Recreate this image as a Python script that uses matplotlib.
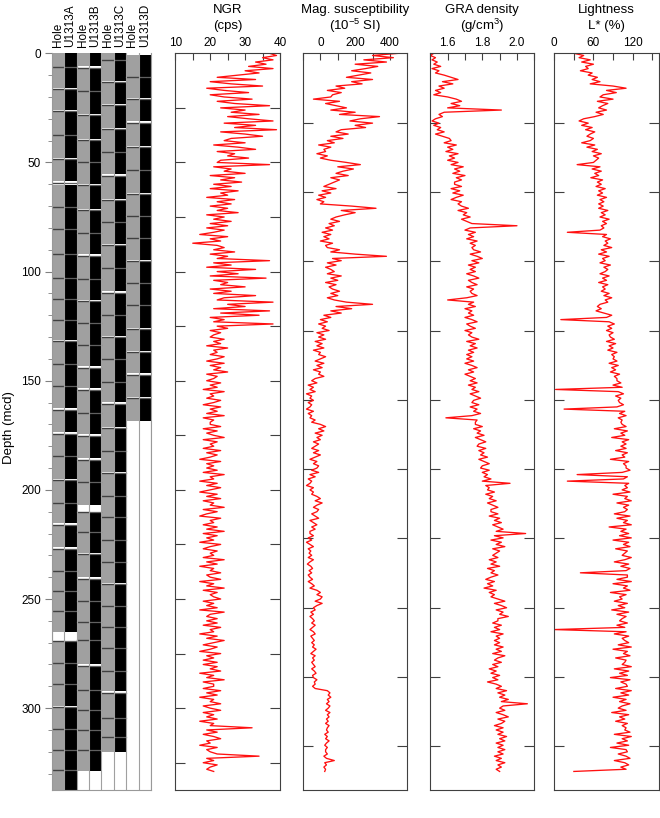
import numpy as np
import matplotlib
matplotlib.use("Agg")
import matplotlib.pyplot as plt
from matplotlib.patches import Rectangle

plt.rcParams['font.family'] = ['Liberation Sans', 'DejaVu Sans']
plt.rcParams['mathtext.fontset'] = 'custom'
plt.rcParams['mathtext.rm'] = 'Liberation Sans'

# sample depths (mcd), every 1 m
depth = np.arange(0, 330, 1)

ngr = [37, 39, 35, 38, 33, 36, 31, 38, 30, 34,
       28, 22, 33, 20, 26, 35, 19, 24, 31, 20,
       24, 32, 22, 27, 37, 23, 30, 26, 34, 25,
       31, 38, 24, 33, 27, 39, 23, 30, 35, 26,
       24, 30, 21, 28, 33, 22, 27, 25, 31, 23,
       22, 37, 21, 26, 24, 30, 20, 27, 23, 29,
       21, 26, 20, 28, 23, 25, 19, 27, 22, 26,
       20, 25, 22, 28, 19, 24, 21, 26, 20, 25,
       19, 24, 21, 17, 25, 20, 23, 15, 22, 24,
       21, 27, 20, 25, 22, 37, 21, 26, 19, 33,
       22, 28, 20, 36, 21, 25, 23, 30, 20, 26,
       21, 33, 24, 22, 38, 25, 30, 21, 37, 23,
       34, 20, 24, 21, 38, 22, 25, 20, 23, 21,
       20, 24, 21, 23, 19, 25, 21, 22, 20, 24,
       22, 19, 24, 20, 23, 21, 25, 19, 22, 21,
       19, 23, 20, 22, 18, 24, 20, 21, 19, 23,
       21, 18, 23, 20, 22, 19, 24, 18, 21, 20,
       20, 23, 18, 22, 19, 21, 24, 18, 22, 20,
       21, 18, 23, 19, 22, 20, 17, 23, 19, 21,
       19, 22, 18, 24, 20, 21, 17, 22, 19, 23,
       20, 17, 22, 19, 23, 18, 21, 20, 24, 18,
       22, 19, 17, 23, 20, 21, 18, 22, 19, 24,
       18, 22, 19, 21, 17, 23, 20, 18, 22, 20,
       21, 18, 24, 19, 22, 17, 21, 20, 23, 19,
       20, 23, 17, 21, 19, 24, 18, 22, 20, 21,
       23, 18, 21, 19, 22, 17, 24, 20, 19, 22,
       19, 22, 18, 23, 20, 21, 17, 22, 19, 24,
       21, 18, 22, 20, 17, 23, 19, 21, 18, 22,
       18, 22, 20, 23, 17, 21, 19, 24, 18, 21,
       21, 18, 23, 19, 22, 17, 21, 20, 23, 18,
       20, 23, 18, 21, 19, 22, 17, 21, 20, 32,
       19, 22, 18, 21, 23, 19, 20, 17, 22, 19,
       20, 22, 34, 19, 21, 18, 22, 20, 19, 21]

magsus = [450, 300, 420, 250, 380, 200, 330, 260, 180, 290,
          220, 150, 300, 180, 240, 90, 140, 40, 120, 70,
          60, -40, 110, 30, 90, 150, 60, 200, 110, 340,
          230, 170, 300, 200, 260, 120, 90, 160, 60, 130,
          40, 80, -10, 60, 20, 30, -20, 40, 0, 60,
          150, 230, 100, 190, 130, 90, 160, 60, 110, 80,
          50, 20, 90, 10, 60, -10, 30, -20, 20, 0,
          180, 320, 120, 200, 140, 90, 60, 110, 50, 80,
          30, 70, 10, 60, 20, 50, 0, 70, 30, 40,
          110, 60, 200, 380, 70, 120, 40, 90, 30, 60,
          80, 40, 120, 60, 100, 30, 90, 50, 70, 110,
          60, 100, 40, 80, 150, 300, 90, 180, 60, 120,
          20, 60, 0, 40, -10, 30, 10, 50, -20, 20,
          -10, 30, -30, 10, -20, 20, -40, 0, -10, 30,
          0, -30, 20, -20, 10, -40, 0, -10, 20, -30,
          -50, -20, -70, -40, -60, -30, -80, -50, -60, -40,
          -70, -50, -60, -80, -40, -70, -50, -60, -30, -50,
          0, 30, -10, 20, -30, 10, -20, 0, -40, -10,
          -30, -50, -10, -40, 0, -30, -60, -20, -40, -10,
          -20, -50, -10, -60, -30, -70, -50, -60, -80, -40,
          -60, -40, -50, -20, 0, -30, 10, -20, -40, -10,
          -20, -50, -30, -10, -60, -40, -20, -50, -30, -60,
          -60, -40, -70, -50, -80, -60, -40, -70, -55, -65,
          -50, -70, -40, -60, -75, -55, -45, -65, -50, -70,
          -60, -45, -70, -50, -35, -60, -20, 0, -20, 10,
          0, -30, 10, -20, -40, -30, -55, -40, -60, -45,
          -35, -50, -30, -45, -60, -40, -30, -55, -45, -35,
          -50, -35, -45, -25, -40, -55, -30, -45, -35, -50,
          -40, -30, -50, -35, -25, -45, -40, -20, -35, -30,
          -45, -30, 40, 55, 45, 60, 40, 50, 35, 55,
          45, 30, 55, 40, 50, 35, 45, 30, 50, 40,
          35, 45, 25, 40, 30, 50, 35, 25, 40, 30,
          30, 40, 20, 35, 80, 25, 35, 20, 30, 25]

gra = [1.52, 1.50, 1.53, 1.51, 1.54, 1.52, 1.56, 1.51, 1.55, 1.53,
       1.58, 1.62, 1.66, 1.57, 1.63, 1.55, 1.58, 1.53, 1.56, 1.52,
       1.60, 1.65, 1.68, 1.62, 1.67, 1.60, 1.91, 1.58, 1.55, 1.57,
       1.53, 1.51, 1.55, 1.52, 1.56, 1.54, 1.58, 1.53, 1.57, 1.61,
       1.62, 1.58, 1.65, 1.60, 1.63, 1.59, 1.66, 1.61, 1.64, 1.60,
       1.66, 1.62, 1.69, 1.64, 1.67, 1.63, 1.70, 1.65, 1.68, 1.64,
       1.64, 1.68, 1.62, 1.67, 1.63, 1.69, 1.65, 1.62, 1.68, 1.66,
       1.68, 1.72, 1.66, 1.71, 1.69, 1.73, 1.68, 1.71, 1.74, 2.00,
       1.73, 1.70, 1.76, 1.72, 1.75, 1.71, 1.77, 1.73, 1.76, 1.74,
       1.75, 1.79, 1.73, 1.77, 1.80, 1.74, 1.78, 1.72, 1.76, 1.73,
       1.76, 1.71, 1.75, 1.78, 1.72, 1.74, 1.77, 1.71, 1.75, 1.73,
       1.74, 1.77, 1.71, 1.60, 1.75, 1.72, 1.76, 1.70, 1.74, 1.72,
       1.75, 1.70, 1.74, 1.77, 1.71, 1.73, 1.76, 1.70, 1.74, 1.72,
       1.74, 1.78, 1.71, 1.76, 1.73, 1.77, 1.72, 1.75, 1.71, 1.74,
       1.71, 1.75, 1.70, 1.74, 1.77, 1.72, 1.75, 1.70, 1.73, 1.76,
       1.73, 1.77, 1.72, 1.76, 1.74, 1.78, 1.73, 1.76, 1.79, 1.75,
       1.74, 1.78, 1.73, 1.77, 1.75, 1.79, 1.74, 1.59, 1.77, 1.76,
       1.76, 1.80, 1.75, 1.79, 1.77, 1.81, 1.76, 1.79, 1.82, 1.78,
       1.77, 1.82, 1.78, 1.81, 1.79, 1.83, 1.78, 1.81, 1.84, 1.80,
       1.79, 1.84, 1.80, 1.83, 1.81, 1.85, 1.80, 1.96, 1.82, 1.84,
       1.83, 1.87, 1.82, 1.86, 1.84, 1.88, 1.83, 1.86, 1.89, 1.85,
       1.85, 1.89, 1.84, 1.90, 1.87, 1.91, 1.86, 1.89, 1.92, 1.88,
       2.05, 1.87, 1.92, 1.85, 1.91, 1.88, 1.93, 1.86, 1.90, 1.88,
       1.86, 1.89, 1.84, 1.88, 1.85, 1.90, 1.83, 1.87, 1.85, 1.89,
       1.85, 1.82, 1.87, 1.83, 1.86, 1.81, 1.88, 1.84, 1.87, 1.85,
       1.89, 1.93, 1.87, 1.91, 1.94, 1.88, 1.92, 1.90, 1.95, 1.89,
       1.89, 1.86, 1.91, 1.87, 1.90, 1.85, 1.92, 1.88, 1.90, 1.87,
       1.90, 1.87, 1.92, 1.88, 1.91, 1.86, 1.93, 1.89, 1.87, 1.91,
       1.86, 1.89, 1.84, 1.88, 1.85, 1.90, 1.86, 1.89, 1.83, 1.88,
       1.91, 1.88, 1.94, 1.89, 1.93, 1.90, 1.95, 1.91, 2.06, 1.92,
       1.90, 1.93, 1.88, 1.92, 1.95, 1.89, 1.93, 1.91, 1.87, 1.92,
       1.88, 1.92, 1.89, 1.94, 1.90, 1.93, 1.88, 1.92, 1.89, 1.93,
       1.89, 1.92, 1.87, 1.91, 1.88, 1.93, 1.89, 1.91, 1.88, 1.90]

lightness = [30, 45, 38, 55, 42, 60, 48, 52, 40, 58,
             52, 66, 58, 70, 55, 90, 110, 80, 95, 75,
             70, 90, 66, 82, 74, 68, 80, 64, 75, 62,
             45, 38, 52, 42, 58, 48, 62, 55, 50, 60,
             55, 42, 62, 50, 66, 58, 72, 60, 68, 64,
             60, 35, 70, 58, 72, 62, 68, 56, 74, 66,
             72, 64, 78, 68, 74, 66, 80, 70, 76, 68,
             75, 68, 82, 72, 78, 70, 84, 74, 80, 72,
             76, 70, 20, 80, 74, 86, 78, 82, 76, 88,
             72, 80, 68, 84, 74, 78, 70, 86, 76, 82,
             78, 70, 84, 74, 80, 68, 82, 74, 78, 72,
             84, 76, 88, 78, 82, 70, 66, 72, 64, 76,
             88, 80, 10, 84, 92, 82, 88, 80, 90, 84,
             86, 92, 80, 94, 84, 90, 82, 96, 88, 92,
             90, 96, 84, 98, 88, 94, 86, 100, 92, 96,
             96, 102, 90, 104, 2, 98, 106, 94, 102, 98,
             100, 106, 96, 15, 108, 100, 110, 98, 104, 102,
             104, 110, 92, 112, 102, 108, 88, 114, 104, 110,
             102, 110, 94, 112, 104, 108, 86, 114, 106, 110,
             110, 116, 104, 35, 112, 106, 20, 114, 108, 112,
             104, 116, 90, 112, 108, 118, 96, 114, 106, 112,
             108, 92, 116, 96, 112, 106, 118, 84, 110, 102,
             114, 100, 118, 90, 114, 106, 116, 94, 112, 108,
             104, 118, 108, 92, 114, 102, 116, 110, 40, 112,
             112, 96, 118, 90, 112, 106, 116, 86, 110, 100,
             104, 92, 112, 98, 108, 88, 114, 96, 110, 104,
             100, 112, 96, 108, 0, 110, 92, 114, 104, 108,
             114, 98, 118, 90, 112, 106, 116, 94, 110, 108,
             104, 118, 92, 114, 100, 112, 86, 116, 102, 110,
             112, 94, 118, 102, 114, 90, 110, 100, 116, 104,
             98, 110, 88, 114, 100, 108, 94, 112, 104, 110,
             108, 116, 92, 118, 104, 112, 96, 114, 86, 110,
             112, 98, 110, 116, 92, 108, 114, 102, 110, 30]

# core intervals per hole: core tops (dark lines) and white gaps
hole_names = ["U1313A", "U1313B", "U1313C", "U1313D"]
hole_top = [0.0, 0.0, 0.0, 1.0]
hole_bottom = [337.3, 329.0, 320.1, 168.4]
core_tops = [
    [6.1, 16.3, 26.6, 37.4, 48.5, 59.6, 70.4, 80.3, 91.8, 102.9, 112.5, 122.3,
     132.0, 142.5, 152.4, 163.2, 174.3, 184.7, 195.5, 205.8, 215.9, 226.9,
     237.0, 246.2, 255.6, 269.1, 279.2, 288.8, 299.6, 309.4, 319.3, 328.4],
    [6.8, 17.5, 28.4, 39.8, 50.0, 60.4, 71.9, 82.3, 92.8, 103.2, 113.5, 123.5,
     133.7, 144.0, 154.2, 164.6, 175.2, 186.2, 196.6, 210.0, 219.5, 229.6,
     240.7, 250.8, 260.4, 269.0, 280.6, 291.6, 300.7, 309.9, 319.3],
    [3.1, 13.0, 23.7, 34.9, 45.0, 56.1, 67.2, 77.3, 87.8, 98.3, 109.6, 119.7,
     130.0, 140.2, 150.4, 160.5, 171.6, 182.2, 192.5, 202.7, 212.6, 222.9,
     233.0, 243.2, 253.0, 262.9, 272.4, 282.8, 293.2, 304.4, 313.2],
    [10.7, 21.0, 31.8, 43.1, 53.4, 64.6, 74.6, 84.6, 95.3, 105.2, 115.5,
     126.3, 136.8, 147.2, 157.9],
]
core_gaps = [
    [(15.8, 16.4), (26.0, 26.7), (48.0, 48.6), (58.3, 60.2), (131.4, 132.1),
     (162.6, 163.3), (173.7, 174.4), (194.9, 195.6), (215.3, 216.0),
     (226.3, 227.0), (265.2, 269.1), (299.0, 299.7)],
    [(5.9, 7.0), (27.7, 28.5), (39.1, 39.9), (59.7, 60.5), (71.2, 72.0),
     (92.0, 92.9), (112.8, 113.6), (143.3, 144.1), (153.5, 154.3),
     (174.5, 175.3), (185.5, 186.3), (207.0, 210.0), (228.9, 229.7),
     (240.0, 240.8), (280.0, 280.7)],
    [(12.5, 13.1), (23.1, 23.8), (34.3, 35.0), (55.5, 56.2), (66.6, 67.3),
     (87.2, 87.9), (109.0, 109.7), (129.4, 130.1), (159.9, 160.6),
     (171.0, 171.7), (191.9, 192.6), (242.6, 243.3), (292.3, 293.4)],
    [(20.4, 21.1), (31.2, 31.9), (42.5, 43.2), (63.9, 64.7), (94.7, 95.4),
     (125.7, 126.4), (136.2, 136.9), (146.6, 147.3), (157.3, 158.0)],
]

panels = [
    ("NGR", "(cps)", ngr, (10, 40), [10, 15, 20, 25, 30, 35, 40], ["10", "", "20", "", "30", "", "40"]),
    ("Mag. susceptibility", r"(10$^{-5}$ SI)", magsus, (-100, 500),
     [-100, 0, 100, 200, 300, 400, 500], ["", "0", "", "200", "", "400", ""]),
    ("GRA density", r"(g/cm$^{3}$)", gra, (1.5, 2.1),
     [1.5, 1.6, 1.7, 1.8, 1.9, 2.0, 2.1], ["", "1.6", "", "1.8", "", "2.0", ""]),
    ("Lightness", "L* (%)", lightness, (0, 160),
     [0, 30, 60, 90, 120, 150], ["0", "", "60", "", "120", ""]),
]
ngr_yticks = [25, 50, 75, 100, 125, 150, 175, 200, 225, 250, 275, 300, 325]
other_yticks = [31.75, 63.5, 95.25, 127.0, 158.75, 190.5, 222.25, 254.0, 285.75, 317.5]

fig = plt.figure(figsize=(6.6, 8.18), dpi=100)
W, H = 660, 818
top_px, bot_px = 53.3, 790
dmax = 337.5


def px_axes(l, r):
    return fig.add_axes([l / W, 1 - bot_px / H, (r - l) / W, (bot_px - top_px) / H])


# core column panel
axc = px_axes(52, 151)
axc.set_xlim(0, 8)
axc.set_ylim(dmax, 0)
for i in range(4):
    xg, xb = 2 * i, 2 * i + 1
    t, b = hole_top[i], hole_bottom[i]
    axc.add_patch(Rectangle((xg, t), 1, b - t, facecolor='#a0a0a0', edgecolor='none'))
    axc.add_patch(Rectangle((xb, t), 1, b - t, facecolor='black', edgecolor='none'))
    for ct in core_tops[i]:
        axc.plot([xg, xg + 1], [ct, ct], color='#404040', lw=1.0)
        axc.plot([xb, xb + 1], [ct, ct], color='#606060', lw=0.9)
    for g0, g1 in core_gaps[i]:
        axc.add_patch(Rectangle((xg, g0), 2, g1 - g0, facecolor='white', edgecolor='none'))
    # header text
    axc.text(xg + 0.5, -3, "Hole", rotation=90, ha='center', va='bottom', fontsize=8.5)
    axc.text(xb + 0.5, -3, hole_names[i], rotation=90, ha='center', va='bottom', fontsize=8.5)
for x in range(9):
    axc.axvline(x, color='#a0a0a0', lw=0.8)
for s in axc.spines.values():
    s.set_color('#999999')
axc.spines['top'].set_visible(False)
axc.set_xticks([])
axc.set_yticks([0, 50, 100, 150, 200, 250, 300])
axc.set_yticks(np.arange(10, 340, 10), minor=True)
axc.tick_params(axis='y', which='major', direction='out', length=5, color='#808080',
                labelsize=8.5, pad=3)
axc.tick_params(axis='y', which='minor', direction='out', length=3, color='#808080')
fig.text(9 / W, 1 - 428 / H, "Depth (mcd)", rotation=90, ha='center', va='center',
         fontsize=9.5)

# data panels
edges = [(175.3, 280), (303, 407.3), (430.3, 534.3), (554.3, 658.7)]
for (title, unit, vals, xlim, xt, xtl), (l, r) in zip(panels, edges):
    ax = px_axes(l, r)
    ax.plot(vals, depth, color='#ff1010', lw=0.95)
    ax.set_xlim(*xlim)
    ax.set_ylim(dmax, 0)
    ax.xaxis.tick_top()
    ax.set_xticks(xt)
    ax.set_xticklabels(xtl)
    ax.tick_params(axis='x', direction='in', length=5, labelsize=8.5, pad=3,
                   color='#404040')
    ax.set_yticks(ngr_yticks if title == "NGR" else other_yticks)
    ax.tick_params(axis='y', direction='in', length=7, left=True, right=True,
                   labelleft=False, color='#404040')
    for s in ax.spines.values():
        s.set_color('#404040')
    cx = (l + r) / 2 / W
    fig.text(cx, 1 - 10 / H, title, ha='center', va='center', fontsize=9.5)
    fig.text(cx, 1 - 26 / H, unit, ha='center', va='center', fontsize=9.5)

fig.savefig("out.png", dpi=100)
